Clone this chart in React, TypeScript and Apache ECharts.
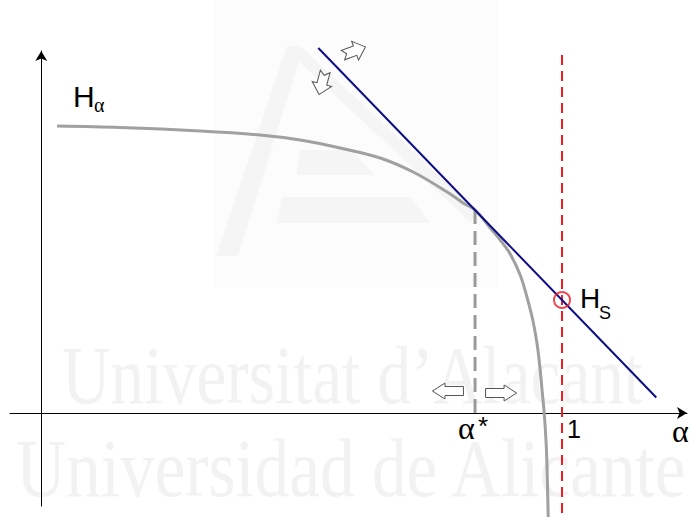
import { useEffect, useRef } from "react";
import * as echarts from "echarts";

// Hα curve: alpha values and matching H values
const curveAlpha = [
  0.0304, 0.1514, 0.305, 0.4203, 0.4971, 0.574, 0.6508, 0.7142, 0.7795, 0.8102,
  0.8333, 0.8621, 0.8813, 0.9005, 0.9197, 0.9332, 0.9447, 0.9524, 0.9581, 0.962,
  0.9658, 0.9697, 0.9716, 0.9735,
];
const curveH = [
  2.87, 2.855, 2.82, 2.78, 2.73, 2.65, 2.55, 2.41, 2.21, 2.1, 2.03, 1.85, 1.73,
  1.59, 1.38, 1.15, 0.91, 0.68, 0.43, 0.21, 0, -0.32, -0.62, -1.04,
];

// tangent line through (alpha*, H*) and (1, Hs)
const tangentAlpha = [0.532, 1.181];
const tangentH = [3.65, 0.155];
const alphaStar = 0.833;
const hStar = 2.03;
const alphaOne = 1;
const hS = 1.13;
const redLineH = [3.58, -1.04];

const xRange = [-0.06, 1.24];
const yRange = [-0.93, 3.62];

const SANS = "Liberation Sans";
const SERIF = "Liberation Serif";

export default function App() {
  const ref = useRef<HTMLDivElement>(null);

  useEffect(() => {
    const chart = echarts.init(ref.current!, null, { renderer: "svg" });

    const axisCommon = {
      type: "value" as const,
      axisLine: {
        show: true,
        onZero: true,
        symbol: ["none", "arrow"],
        symbolSize: [9, 10],
        lineStyle: { color: "#000", width: 1 },
      },
      axisTick: { show: false },
      axisLabel: { show: false },
      splitLine: { show: false },
    };

    chart.setOption({
      animation: false,
      backgroundColor: "#fff",
      grid: { left: 10, top: 51, width: 677, height: 455, outerBoundsMode: "none" },
      xAxis: { ...axisCommon, min: xRange[0], max: xRange[1] },
      yAxis: { ...axisCommon, min: yRange[0], max: yRange[1] },
      series: [
        {
          name: "Hα",
          type: "line",
          data: curveAlpha.map((a, i) => [a, curveH[i]]),
          showSymbol: false,
          smooth: 0.35,
          clip: false,
          lineStyle: { color: "#a0a0a0", width: 3 },
          z: 3,
        },
        {
          name: "alphaStar",
          type: "line",
          data: [
            [alphaStar, hStar],
            [alphaStar, 0],
          ],
          showSymbol: false,
          lineStyle: { color: "#9a9a9a", width: 3, type: [14, 7] },
          z: 3,
        },
        {
          name: "alphaOne",
          type: "line",
          data: redLineH.map((h) => [alphaOne, h]),
          showSymbol: false,
          clip: false,
          lineStyle: { color: "#ee1c25", width: 2, type: [10, 6] },
          z: 4,
        },
        {
          name: "tangent",
          type: "line",
          data: tangentAlpha.map((a, i) => [a, tangentH[i]]),
          showSymbol: false,
          clip: false,
          lineStyle: { color: "#0d0d8a", width: 2 },
          z: 5,
        },
        {
          name: "Hs",
          type: "scatter",
          data: [[alphaOne, hS]],
          symbol: "circle",
          symbolSize: 16,
          itemStyle: { color: "rgba(0,0,0,0)", borderColor: "#ee1c25", borderWidth: 2 },
          z: 6,
        },
      ],
    });

    const P = (a: number, h: number) =>
      chart.convertToPixel({ xAxisIndex: 0, yAxisIndex: 0 }, [a, h]) as number[];

    const txt = (x: number, y: number, text: string, size: number, family: string) => ({
      type: "text",
      x,
      y,
      z: 20,
      style: {
        text,
        font: `${size}px "${family}"`,
        fill: "#000",
        textAlign: "left",
        textVerticalAlign: "middle",
        align: "left",
        verticalAlign: "middle",
      },
    });

    // block arrow pointing along +x, centred on the origin
    const blockArrow = [
      [-15.5, -4.5],
      [3, -4.5],
      [3, -8],
      [15.5, 0],
      [3, 8],
      [3, 4.5],
      [-15.5, 4.5],
    ];
    const notchArrow = [
      [-12, -5],
      [1, -5],
      [1, -10],
      [12, 0],
      [1, 10],
      [1, 5],
      [-12, 5],
      [-8, 0],
    ];
    const arrow = (c: number[], shape: number[][], rotation: number) => ({
      type: "polygon",
      x: c[0],
      y: c[1],
      rotation,
      z: 20,
      shape: { points: shape },
      style: { fill: "#fff", stroke: "#555", lineWidth: 1 },
    });

    const p0 = P(curveAlpha[0], curveH[0]);
    const pS = P(alphaOne, hS);
    const pA = P(alphaStar, 0);
    const p1 = P(alphaOne, 0);
    const pX = P(xRange[1], 0);

    const wm = (x: number, y: number, text: string, sx: number) => ({
      type: "text",
      x,
      y,
      scaleX: sx,
      z: -5,
      style: {
        text,
        font: `82px "${SERIF}"`,
        fill: "#f2f2f2",
        textAlign: "left",
        textVerticalAlign: "middle",
        align: "left",
        verticalAlign: "middle",
      },
    });

    const faint = "#f5f5f5";
    chart.setOption({
      graphic: [
        // background emblem
        { type: "rect", z: -10, shape: { x: 215, y: 0, width: 282, height: 287 }, style: { fill: "#fcfcfc" } },
        { type: "polygon", z: -9, shape: { points: [[287, 46], [300, 58], [238, 256], [216, 256]] }, style: { fill: faint } },
        { type: "polygon", z: -9, shape: { points: [[287, 46], [300, 46], [480, 214], [470, 222], [300, 62]] }, style: { fill: faint } },
        { type: "polygon", z: -9, shape: { points: [[300, 150], [352, 150], [374, 175], [297, 175]] }, style: { fill: faint } },
        { type: "polygon", z: -9, shape: { points: [[282, 197], [410, 197], [430, 223], [277, 223]] }, style: { fill: faint } },
        wm(62, 375, "Universitat d’Alacant", 0.82),
        wm(16, 468, "Universidad de Alicante", 0.845),
        // labels
        txt(p0[0] + 16, p0[1] - 30, "H", 30, SANS),
        txt(p0[0] + 37, p0[1] - 21, "α", 20, SERIF),
        txt(pS[0] + 18, pS[1] - 2, "H", 28, SANS),
        txt(pS[0] + 37, pS[1] + 13, "S", 18, SANS),
        txt(pA[0] - 17, pA[1] + 15, "α", 32, SERIF),
        txt(pA[0] + 3, pA[1] + 13, "*", 26, SANS),
        txt(p1[0] + 5, p1[1] + 16, "1", 25, SANS),
        txt(pX[0] - 15, pX[1] + 18, "α", 32, SERIF),
        // shift arrows
        arrow(P(0.781, 0.22), blockArrow, Math.PI),
        arrow(P(0.883, 0.2), blockArrow, 0),
        arrow(P(0.6009, 3.62), notchArrow, 0.35),
        arrow(P(0.5394, 3.3), notchArrow, -1.83),
      ],
    });

    return () => chart.dispose();
  }, []);

  return (
    <div
      ref={ref}
      style={{ position: "fixed", left: 0, top: 0, width: 692, height: 517 }}
    />
  );
}
